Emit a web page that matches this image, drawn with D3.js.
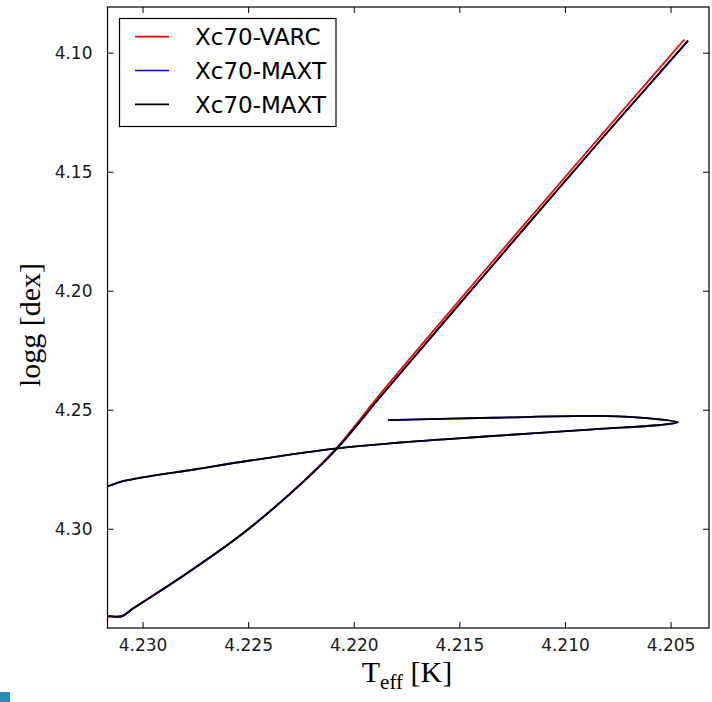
<!DOCTYPE html>
<html>
<head>
<meta charset="utf-8">
<script src="https://cdn.jsdelivr.net/npm/d3@7"></script>
<style>
  html, body { margin: 0; padding: 0; background: #ffffff; }
  svg { display: block; }
</style>
</head>
<body>
<svg id="chart" width="712" height="702"></svg>
<script>
// Evolutionary tracks in the Teff / logg plane
const seriesNames = ["Xc70-VARC", "Xc70-MAXT", "Xc70-MAXT"];
const seriesColors = ["#ff0000", "#0000ff", "#000000"];

// Xc70-VARC track (log Teff, log g)
const varcTeff = [4.23600, 4.23225, 4.23163, 4.23098, 4.23046, 4.22817, 4.22526, 4.22249,
                  4.22083, 4.21871, 4.21418, 4.20889, 4.20766, 4.20435];
const varcLogg = [4.33690, 4.33690, 4.33690, 4.33690, 4.33360, 4.32030, 4.30200, 4.28092,
                  4.26622, 4.24298, 4.19550, 4.14088, 4.12828, 4.09445];

// Xc70-MAXT track (log Teff, log g)
const maxtTeff = [4.21837, 4.21341, 4.20804, 4.20599, 4.20465, 4.20550, 4.20866, 4.21339,
                  4.21781, 4.22079, 4.22491, 4.22743, 4.23083, 4.23162, 4.23248,
                  4.23500, 4.23600, 4.23225, 4.23163, 4.23098, 4.23044, 4.22814, 4.22524,
                  4.22247, 4.22079, 4.21859, 4.21402, 4.20872, 4.20748, 4.20417];
const maxtLogg = [4.25433, 4.25336, 4.25265, 4.25361, 4.25529, 4.25642, 4.25822, 4.26104,
                  4.26377, 4.26620, 4.27133, 4.27490, 4.27982, 4.28204, 4.28458,
                  4.29000, 4.33668, 4.33668, 4.33668, 4.33668, 4.33345, 4.32017, 4.30192,
                  4.28092, 4.26622, 4.24298, 4.19550, 4.14088, 4.12828, 4.09496];

const xTicks = [4.230, 4.225, 4.220, 4.215, 4.210, 4.205];
const yTicks = [4.10, 4.15, 4.20, 4.25, 4.30];
const xDomain = [4.23166, 4.20318];
const yDomain = [4.0808, 4.3417];

const svg = d3.select("#chart");
const plotLeft = 107.5, plotRight = 709, plotTop = 7, plotBottom = 628;

const x = d3.scaleLinear().domain(xDomain).range([plotLeft, plotRight]);
const y = d3.scaleLinear().domain(yDomain).range([plotTop, plotBottom]);

svg.append("defs").append("clipPath").attr("id", "plotClip")
  .append("rect").attr("x", plotLeft).attr("y", plotTop)
  .attr("width", plotRight - plotLeft).attr("height", plotBottom - plotTop);

const toPoints = (ts, gs) => ts.map((t, i) => [t, gs[i]]);
const tracks = [
  toPoints(varcTeff, varcLogg),
  toPoints(maxtTeff, maxtLogg),
  toPoints(maxtTeff, maxtLogg)
];

const line = d3.line()
  .x(d => x(d[0])).y(d => y(d[1]))
  .curve(d3.curveCatmullRom.alpha(0.5));

const plot = svg.append("g").attr("clip-path", "url(#plotClip)");
tracks.forEach((pts, i) => {
  plot.append("path")
    .attr("d", line(pts))
    .attr("fill", "none")
    .attr("stroke", seriesColors[i])
    .attr("stroke-width", 1.8)
    .attr("stroke-linejoin", "round");
});

// axes: ticks point inward on all four sides
const tickFont = "'DejaVu Sans', sans-serif";
function styleAxis(g) {
  g.select(".domain").remove();
  g.selectAll(".tick line").attr("stroke", "#000").attr("stroke-width", 1);
  g.selectAll(".tick text").attr("fill", "#1a1a1a")
    .style("font-family", tickFont).style("font-size", "17px");
}

svg.append("g").attr("transform", `translate(0,${plotBottom})`)
  .call(d3.axisBottom(x).tickValues(xTicks).tickFormat(d3.format(".3f"))
        .tickSizeInner(-6).tickSizeOuter(0).tickPadding(11))
  .call(styleAxis);
svg.append("g").attr("transform", `translate(0,${plotTop})`)
  .call(d3.axisTop(x).tickValues(xTicks).tickFormat("")
        .tickSizeInner(-6).tickSizeOuter(0))
  .call(styleAxis);
svg.append("g").attr("transform", `translate(${plotLeft},0)`)
  .call(d3.axisLeft(y).tickValues(yTicks).tickFormat(d3.format(".2f"))
        .tickSizeInner(-6).tickSizeOuter(0).tickPadding(15))
  .call(styleAxis);
svg.append("g").attr("transform", `translate(${plotRight},0)`)
  .call(d3.axisRight(y).tickValues(yTicks).tickFormat("")
        .tickSizeInner(-6).tickSizeOuter(0))
  .call(styleAxis);

// frame
svg.append("rect")
  .attr("x", plotLeft).attr("y", plotTop)
  .attr("width", plotRight - plotLeft).attr("height", plotBottom - plotTop)
  .attr("fill", "none").attr("stroke", "#000").attr("stroke-width", 1.2);

// axis titles
const serif = "'Liberation Serif', 'DejaVu Serif', serif";
const xt = svg.append("text")
  .attr("x", 407).attr("y", 682)
  .attr("text-anchor", "middle")
  .style("font-family", serif).style("font-size", "30px").attr("fill", "#000");
xt.append("tspan").text("T");
xt.append("tspan").attr("dy", 7).style("font-size", "21px").text("eff");
xt.append("tspan").attr("dy", -7).text(" [K]");

svg.append("text")
  .attr("transform", "translate(40,325) rotate(-90)")
  .attr("text-anchor", "middle")
  .style("font-family", serif).style("font-size", "30px").attr("fill", "#000")
  .text("logg [dex]");

// legend
const lg = svg.append("g");
lg.append("rect")
  .attr("x", 119.5).attr("y", 18.5).attr("width", 216.5).attr("height", 108)
  .attr("fill", "#fff").attr("stroke", "#000").attr("stroke-width", 1.2);
seriesNames.forEach((name, i) => {
  const yy = 36.7 + i * 33.8;
  lg.append("line")
    .attr("x1", 135).attr("x2", 169).attr("y1", yy).attr("y2", yy)
    .attr("stroke", seriesColors[i]).attr("stroke-width", 1.7);
  lg.append("text")
    .attr("x", 195).attr("y", yy).attr("dy", "0.36em")
    .style("font-family", tickFont).style("font-size", "23px").attr("fill", "#000")
    .text(name);
});

// small marker block in the lower-left corner
svg.append("rect")
  .attr("x", 0).attr("y", 692).attr("width", 10).attr("height", 10)
  .attr("fill", "#2a8cb5");
</script>
</body>
</html>
